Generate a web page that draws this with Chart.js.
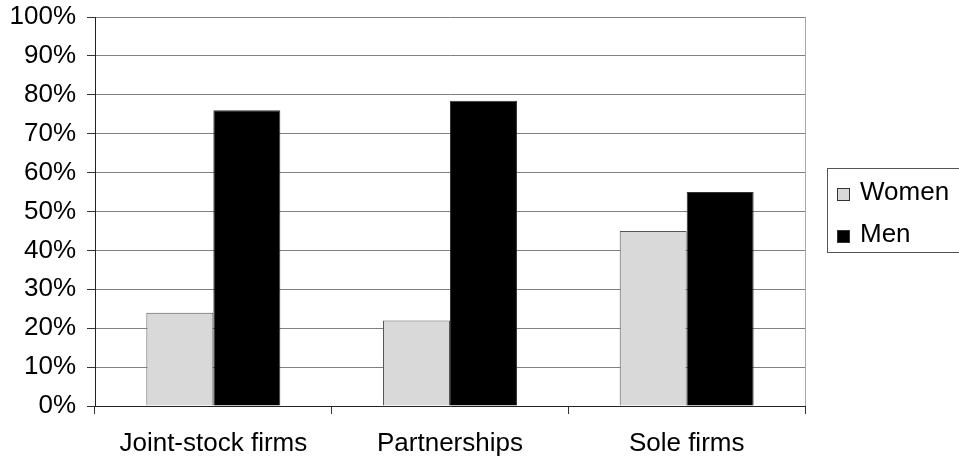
<!DOCTYPE html>
<html>
<head>
<meta charset="utf-8">
<script src="https://cdn.jsdelivr.net/npm/chart.js@4"></script>
<style>
  html, body { margin: 0; padding: 0; background: #fff; }
  canvas { display: block; }
</style>
</head>
<body>
<canvas id="myChart" width="959" height="461"></canvas>
<script>
// data
const categories = ['Joint-stock firms', 'Partnerships', 'Sole firms'];
const women = [24, 22, 45];
const men = [76, 78.5, 55];
const yTicks = [0, 10, 20, 30, 40, 50, 60, 70, 80, 90, 100];

const FONT = '"Liberation Sans", Arial, sans-serif';

// box legend on the right + right edge of plot
const boxLegend = {
  id: 'boxLegend',
  afterDraw(chart) {
    const c = chart.ctx;
    const area = chart.chartArea;
    c.save();
    // right border of plot area
    c.strokeStyle = '#a6a6a6';
    c.lineWidth = 1;
    c.beginPath();
    c.moveTo(Math.round(area.right) + 0.5, area.top);
    c.lineTo(Math.round(area.right) + 0.5, area.bottom);
    c.stroke();

    // legend frame
    c.strokeStyle = '#555';
    c.strokeRect(827.5, 168.5, 140, 84);
    c.font = '26px ' + FONT;
    c.textBaseline = 'alphabetic';
    c.fillStyle = '#000';
    const baselines = [200, 242];
    chart.data.datasets.forEach((ds, i) => {
      const b = baselines[i];
      c.fillStyle = ds.backgroundColor;
      c.fillRect(837, b - 12, 13, 13);
      c.strokeStyle = '#333';
      c.strokeRect(837.5, b - 11.5, 12, 12);
      c.fillStyle = '#000';
      c.fillText(ds.label, 860, b);
    });
    c.restore();
  }
};

const ctx = document.getElementById('myChart').getContext('2d');
const myChart = new Chart(ctx, {
  type: 'bar',
  data: {
    labels: categories,
    datasets: [{
      label: 'Women',
      data: women,
      backgroundColor: '#d9d9d9',
      borderColor: '#555',
      borderWidth: 1,
      categoryPercentage: 0.566,
      barPercentage: 1.0
    }, {
      label: 'Men',
      data: men,
      backgroundColor: '#000',
      borderColor: '#333',
      borderWidth: 1,
      categoryPercentage: 0.566,
      barPercentage: 1.0
    }]
  },
  options: {
    responsive: false,
    animation: false,
    devicePixelRatio: 1,
    layout: { padding: { top: 17, right: 154, left: 0, bottom: 0 } },
    plugins: {
      legend: { display: false },
      tooltip: { enabled: false }
    },
    scales: {
      x: {
        offset: true,
        grid: {
          offset: true,
          drawOnChartArea: false,
          tickLength: 8,
          color: '#333'
        },
        border: { color: '#222' },
        ticks: {
          padding: 14,
          color: '#000',
          font: { family: FONT, size: 26 },
          maxRotation: 0
        },
        afterFit: s => { s.height = 55; }
      },
      y: {
        min: 0,
        max: 100,
        afterBuildTicks: s => { s.ticks = yTicks.map(v => ({ value: v })); },
        grid: {
          color: '#808080',
          tickColor: '#333',
          tickLength: 8
        },
        border: { color: '#222' },
        ticks: {
          padding: 11,
          color: '#000',
          font: { family: FONT, size: 26, lineHeight: 0.6 },
          callback: v => v + '%'
        },
        afterFit: s => { s.width = 95; s.paddingTop = 0; }
      }
    }
  },
  plugins: [boxLegend]
});
</script>
</body>
</html>
